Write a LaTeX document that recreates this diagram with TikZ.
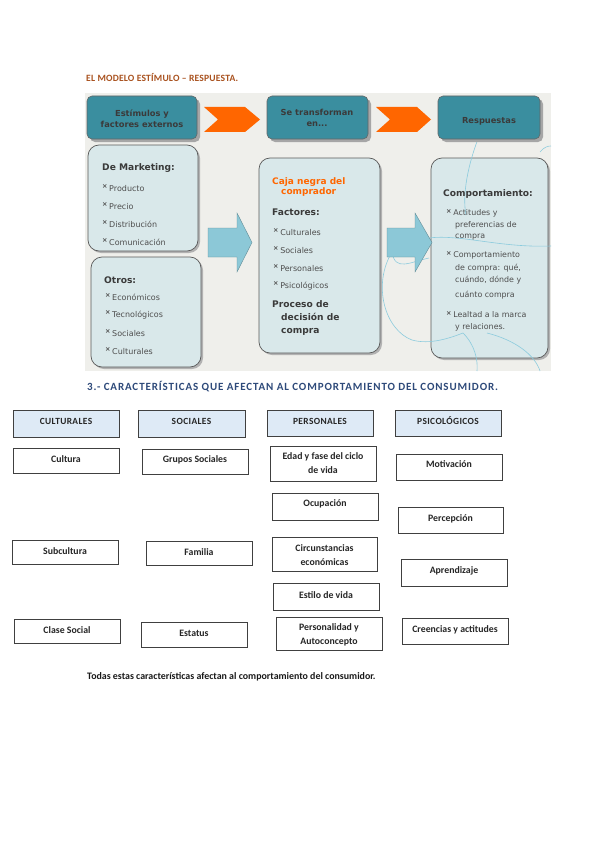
\documentclass[tikz,border=0pt]{standalone}
\usepackage{fontspec}
\setmainfont{Carlito}
\newfontfamily\verd{DejaVu Sans}
\newfontfamily\calhead[LetterSpace=8]{Carlito}
\newfontfamily\calcaps[LetterSpace=4]{Carlito}
\newfontfamily\caltit[LetterSpace=2]{Carlito}
\definecolor{bgg}{HTML}{EFEFEB}
\definecolor{teal}{HTML}{3A8E9F}
\definecolor{lbox}{HTML}{D9E8EA}
\definecolor{arr}{HTML}{8CC8D7}
\definecolor{orng}{HTML}{FF6600}
\definecolor{titc}{HTML}{A9521F}
\definecolor{headc}{HTML}{2E4A7A}
\definecolor{hdrf}{HTML}{DEEAF6}
\definecolor{deco}{HTML}{8CCBDD}
\definecolor{txt}{HTML}{3A3A3A}
\newcommand\tbul{\raisebox{2.6pt}{\fontsize{6.5}{7}\selectfont\bfseries ×}\hspace{1.6pt}}
\tikzset{
  topbox/.style={draw=black!60, line width=0.6pt, fill=teal, rounded corners=5pt},
  topshadow/.style={fill=black!35, rounded corners=5pt},
  lightbox/.style={draw=black!65, line width=0.7pt, fill=lbox, rounded corners=11pt},
  lightshadow/.style={fill=black!30, rounded corners=11pt},
  toptxt/.style={font=\verd\bfseries\fontsize{8.3}{11}\selectfont, text=txt, align=center, inner sep=0pt},
  itemtxt/.style={font=\verd\fontsize{8}{9}\selectfont, text=txt!90, anchor=west, inner sep=0pt},
  headtxt/.style={font=\verd\bfseries\fontsize{9.1}{11}\selectfont, text=txt, anchor=west, inner sep=0pt},
  chev/.style={fill=orng},
  bigarrow/.style={fill=arr, draw=arr!70!black, line width=0.4pt},
  decoline/.style={draw=deco, line width=0.6pt},
  hdrbox/.style={draw=black!75, line width=0.8pt, fill=hdrf},
  itbox/.style={draw=black!75, line width=0.8pt, fill=white},
  btxt/.style={font=\bfseries\fontsize{9.8}{14}\selectfont, text=black!85, align=center, inner sep=0pt},
  bcaps/.style={font=\calcaps\bfseries\fontsize{9.4}{12}\selectfont, text=black!85, align=center, inner sep=0pt}
}
\begin{document}
\begin{tikzpicture}[x=1pt,y=-1pt]
\useasboundingbox (0,0) rectangle (599,848);
\fill[white] (0,0) rectangle (599,848);

% title
\node[font=\caltit\bfseries\fontsize{9.6}{10}\selectfont, text=titc, anchor=west, inner sep=0pt] (title) at (86,78) {EL MODELO ESTÍMULO – RESPUESTA.};

% background panel
\fill[bgg] (85,93) rectangle (551,371);

% light boxes (with shadows)
\fill[lightshadow] (90,147) rectangle (200,253);
\draw[lightbox] (88,145) rectangle (198,251);
\fill[lightshadow] (93,259) rectangle (203,369);
\draw[lightbox] (91,257) rectangle (201,367);
\fill[lightshadow] (261,160) rectangle (382,355);
\draw[lightbox] (259,158) rectangle (380,353);
\fill[lightshadow] (433,160) rectangle (550,360);
\draw[lightbox] (431,158) rectangle (548,358);

% decorative curves
\draw[decoline] (478,139) .. controls (468,165) and (462,195) .. (466,215);
\draw[decoline] (429,238) .. controls (460,234) and (500,248) .. (551,246);
\draw[decoline] (392,252) .. controls (372,285) and (385,330) .. (412,340);
\draw[decoline] (412,340) .. controls (430,345) and (450,338) .. (463,333);
\draw[decoline] (463,333) .. controls (475,345) and (478,360) .. (477,371);
\draw[decoline] (487,333) .. controls (515,340) and (535,355) .. (540,371);
\draw[decoline] (429,258) .. controls (410,262) and (395,272) .. (392,252);
\draw[decoline] (540,152) .. controls (544,147) and (548,146) .. (551,146);

% top teal boxes
\fill[topshadow] (90,99) rectangle (200,142);
\draw[topbox] (87,96) rectangle (197,139);
\fill[topshadow] (270,99) rectangle (371,142);
\draw[topbox] (267,96) rectangle (368,139);
\fill[topshadow] (441,99) rectangle (543,142);
\draw[topbox] (438,96) rectangle (540,139);

\node[toptxt] (t1) at (142,119) {Estímulos y\\factores externos};
\node[toptxt] (t2) at (317,118) {Se transforman\\en...};
\node[toptxt] (t3) at (489,121) {Respuestas};

% orange chevrons
\fill[chev] (204,107) -- (245,107) -- (260,119.5) -- (245,132) -- (204,132) -- (218,119.5) -- cycle;
\fill[chev] (376,107) -- (417,107) -- (431,119.5) -- (417,132) -- (376,132) -- (390,119.5) -- cycle;

% big arrows
\draw[bigarrow] (208,228) -- (237,228) -- (237,213) -- (252,242.5) -- (237,272) -- (237,257) -- (208,257) -- cycle;
\draw[bigarrow] (387,228) -- (415,228) -- (415,213) -- (432,242.5) -- (415,272) -- (415,257) -- (387,257) -- cycle;

% De Marketing box
\node[headtxt] (mk) at (102,168) {De Marketing:};
\node[itemtxt] (mk1) at (102,188) {\tbul Producto};
\node[itemtxt] (mk2) at (102,206) {\tbul Precio};
\node[itemtxt] (mk3) at (102,224) {\tbul Distribución};
\node[itemtxt] (mk4) at (102,242) {\tbul Comunicación};

% Otros box
\node[headtxt] (ot) at (104,280) {Otros:};
\node[itemtxt] (ot1) at (105,297) {\tbul Económicos};
\node[itemtxt] (ot2) at (105,315) {\tbul Tecnológicos};
\node[itemtxt] (ot3) at (105,333) {\tbul Sociales};
\node[itemtxt] (ot4) at (105,351) {\tbul Culturales};

% Caja negra box
\node[font=\verd\bfseries\fontsize{9}{10.5}\selectfont, text=orng, anchor=north west, align=left, inner sep=0pt] (cn) at (272,177) {Caja negra del\\\hspace*{9pt}comprador};
\node[headtxt] (fa) at (272,212) {Factores:};
\node[itemtxt] (fa1) at (273,232) {\tbul Culturales};
\node[itemtxt] (fa2) at (273,250) {\tbul Sociales};
\node[itemtxt] (fa3) at (273,268) {\tbul Personales};
\node[itemtxt] (fa4) at (273,286) {\tbul Psicológicos};
\node[font=\verd\bfseries\fontsize{9.1}{13}\selectfont, text=txt, anchor=north west, align=left, inner sep=0pt] (pd) at (272,300) {Proceso de\\\hspace*{9pt}decisión de\\\hspace*{9pt}compra};

% Comportamiento box
\node[headtxt] (co) at (443,194) {Comportamiento:};
\node[itemtxt, anchor=north west, align=left, font=\verd\fontsize{7.9}{11.5}\selectfont] (co1) at (446,209) {\tbul Actitudes y\\\hspace*{9pt}preferencias de\\\hspace*{9pt}compra};
\node[itemtxt, anchor=north west, align=left, font=\verd\fontsize{7.9}{12.5}\selectfont] (co2) at (446,251) {\tbul Comportamiento\\\hspace*{9pt}de compra: qué,\\\hspace*{9pt}cuándo, dónde y\\[2pt]\hspace*{9pt}cuánto compra};
\node[itemtxt, anchor=north west, align=left, font=\verd\fontsize{7.9}{12}\selectfont] (co3) at (446,311) {\tbul Lealtad a la marca\\\hspace*{9pt}y relaciones.};

% heading 3
\node[font=\calhead\bfseries\fontsize{11}{12}\selectfont, text=headc, anchor=west, inner sep=0pt] (h3) at (87,387) {3.- CARACTERÍSTICAS QUE AFECTAN AL COMPORTAMIENTO DEL CONSUMIDOR.};

% header boxes
\draw[hdrbox] (13,410) rectangle (119,437);
\node[bcaps] (hc) at (66,421) {CULTURALES};
\draw[hdrbox] (138,410) rectangle (245,437);
\node[bcaps] (hs) at (191.5,421) {SOCIALES};
\draw[hdrbox] (267,410) rectangle (373,436);
\node[bcaps] (hp) at (320,421) {PERSONALES};
\draw[hdrbox] (395,410) rectangle (501,436);
\node[bcaps] (hps) at (448,421) {PSICOLÓGICOS};

% culturales items
\draw[itbox] (13,448) rectangle (119,473);
\node[btxt] (c1) at (66,459) {Cultura};
\draw[itbox] (12,540) rectangle (118,564);
\node[btxt] (c2) at (65,551) {Subcultura};
\draw[itbox] (14,619) rectangle (120,643);
\node[btxt] (c3) at (67,630) {Clase Social};

% sociales items
\draw[itbox] (142,449) rectangle (248,474);
\node[btxt] (s1) at (195,460) {Grupos Sociales};
\draw[itbox] (146,541) rectangle (252,565);
\node[btxt] (s2) at (199,552) {Familia};
\draw[itbox] (141,622) rectangle (247,647);
\node[btxt] (s3) at (194,633) {Estatus};

% personales items
\draw[itbox] (270,446) rectangle (376,481);
\node[btxt] (p1) at (323,463) {Edad y fase del ciclo\\de vida};
\draw[itbox] (272,493) rectangle (378,520);
\node[btxt] (p2) at (325,504) {Ocupación};
\draw[itbox] (272,537) rectangle (377,571);
\node[btxt] (p3) at (324.5,555) {Circunstancias\\económicas};
\draw[itbox] (273,583) rectangle (379,610);
\node[btxt] (p4) at (326,595) {Estilo de vida};
\draw[itbox] (276,617) rectangle (382,650);
\node[btxt] (p5) at (329,635) {Personalidad y\\Autoconcepto};

% psicologicos items
\draw[itbox] (396,454) rectangle (502,480);
\node[btxt] (q1) at (449,464) {Motivación};
\draw[itbox] (398,507) rectangle (503,533);
\node[btxt] (q2) at (450.5,519) {Percepción};
\draw[itbox] (401,559) rectangle (507,586);
\node[btxt] (q3) at (454,571) {Aprendizaje};
\draw[itbox] (402,618) rectangle (508,644);
\node[btxt] (q4) at (455,630) {Creencias y actitudes};

% footer
\node[font=\bfseries\fontsize{9.9}{11}\selectfont, text=black!90, anchor=west, inner sep=0pt] (ft) at (87,677) {Todas estas características afectan al comportamiento del consumidor.};
\end{tikzpicture}
\end{document}
